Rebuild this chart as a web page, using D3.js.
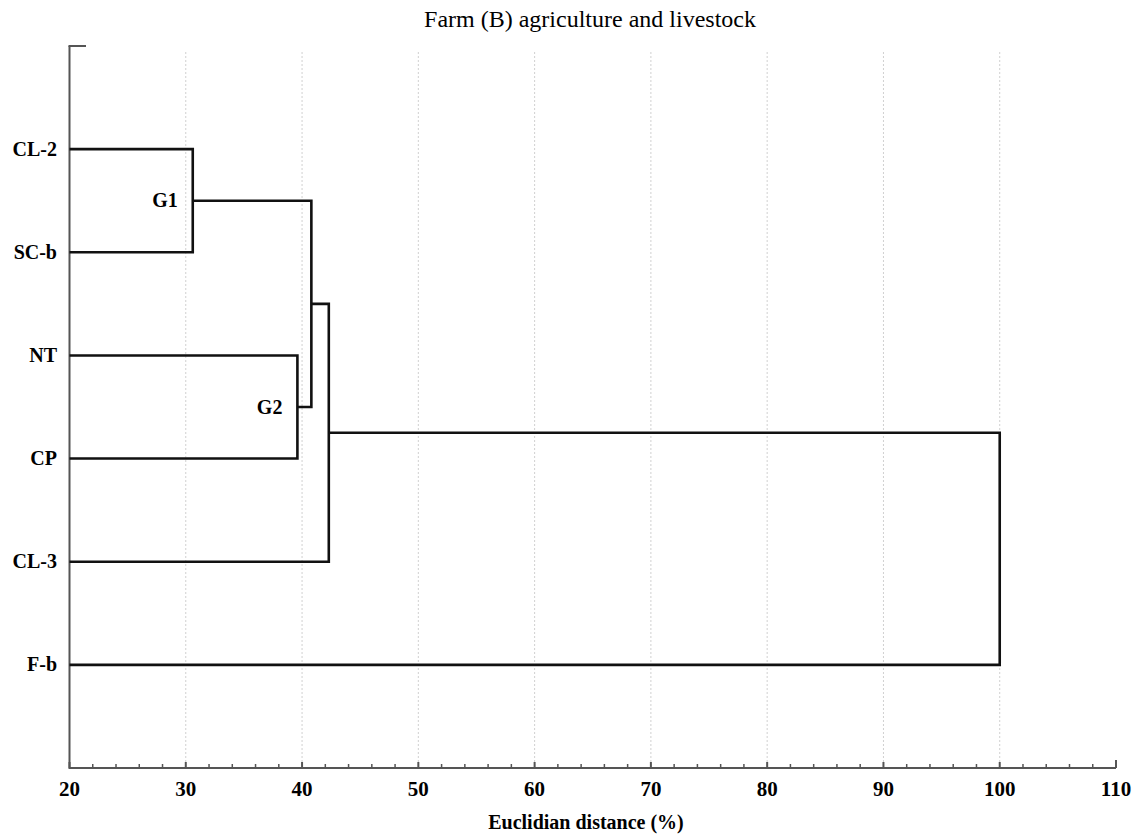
<!DOCTYPE html>
<html>
<head>
<meta charset="utf-8">
<script src="https://cdn.jsdelivr.net/npm/d3@7"></script>
<style>
  body { margin: 0; background: #fff; }
  text { font-family: "Liberation Serif", "Times New Roman", serif; }
</style>
</head>
<body>
<div id="chart"></div>
<script>
// Leaves, top to bottom
const leaves = ["CL-2", "SC-b", "NT", "CP", "CL-3", "F-b"];
// Merges: [name, left, right, distance, shown label]
const merges = [
    ["G1", "CL-2", "SC-b", 30.6, "G1"],
    ["G2", "NT", "CP", 39.6, "G2"],
    ["G12", "G1", "G2", 40.8, null],
    ["G123", "G12", "CL-3", 42.3, null],
    ["root", "G123", "F-b", 100, null]
];
const xTicks = [20, 30, 40, 50, 60, 70, 80, 90, 100, 110];
const gridTicks = [30, 40, 50, 60, 70, 80, 90, 100];
const minorTicks = d3.range(22, 110, 2).filter(v => v % 10 !== 0);

const width = 1142, height = 834;
const svg = d3.select("#chart").append("svg")
    .attr("width", width)
    .attr("height", height);

const x = d3.scaleLinear().domain([20, 110]).range([69.5, 1116]);
const y = d3.scaleLinear().domain([0, leaves.length + 1]).range([46, 768]);

// grid
svg.append("g").selectAll("line")
    .data(gridTicks)
    .enter().append("line")
    .attr("x1", d => x(d)).attr("x2", d => x(d))
    .attr("y1", 52).attr("y2", 768)
    .attr("stroke", "#d0d0d0")
    .attr("stroke-width", 1)
    .attr("stroke-dasharray", "2,2");

// axes
const axisColor = "#555";
svg.append("line")
    .attr("x1", x(20)).attr("x2", x(110))
    .attr("y1", 768).attr("y2", 768)
    .attr("stroke", axisColor).attr("stroke-width", 2);
svg.append("line")
    .attr("x1", x(20)).attr("x2", x(20))
    .attr("y1", 46).attr("y2", 769)
    .attr("stroke", axisColor).attr("stroke-width", 2);
svg.append("line")
    .attr("x1", x(20) - 1).attr("x2", 86)
    .attr("y1", 46).attr("y2", 46)
    .attr("stroke", axisColor).attr("stroke-width", 2);

svg.append("g").selectAll("line")
    .data(xTicks)
    .enter().append("line")
    .attr("x1", d => x(d)).attr("x2", d => x(d))
    .attr("y1", 768).attr("y2", d => d === 110 ? 760 : 762)
    .attr("stroke", axisColor).attr("stroke-width", 2);
svg.append("g").selectAll("line")
    .data(minorTicks)
    .enter().append("line")
    .attr("x1", d => x(d)).attr("x2", d => x(d))
    .attr("y1", 768).attr("y2", 764)
    .attr("stroke", axisColor).attr("stroke-width", 1.5);

svg.append("g").selectAll("text")
    .data(xTicks)
    .enter().append("text")
    .attr("x", d => x(d))
    .attr("y", 796)
    .attr("text-anchor", "middle")
    .attr("font-size", 21)
    .attr("font-weight", "bold")
    .text(d => d);

svg.append("text")
    .attr("x", 586).attr("y", 829)
    .attr("text-anchor", "middle")
    .attr("font-size", 20)
    .attr("font-weight", "bold")
    .text("Euclidian distance (%)");

svg.append("text")
    .attr("x", 590).attr("y", 27)
    .attr("text-anchor", "middle")
    .attr("font-size", 24)
    .text("Farm (B) agriculture and livestock");

// node positions
const nodes = {};
leaves.forEach((name, i) => {
    nodes[name] = { x: 20, y: i + 1 };
});
const links = [];
merges.forEach(m => {
    const a = nodes[m[1]], b = nodes[m[2]];
    const node = { x: m[3], y: (a.y + b.y) / 2, label: m[4] };
    links.push({ a, b, h: m[3] });
    nodes[m[0]] = node;
});

// dendrogram
svg.append("g").selectAll("path")
    .data(links)
    .enter().append("path")
    .attr("fill", "none")
    .attr("stroke", "#111")
    .attr("stroke-width", 2.6)
    .attr("d", l => `M${x(l.a.x)},${y(l.a.y)}H${x(l.h)}V${y(l.b.y)}H${x(l.b.x)}`);

// leaf labels
svg.append("g").selectAll("text")
    .data(leaves)
    .enter().append("text")
    .attr("x", 57)
    .attr("y", (d, i) => y(i + 1) + 6.5)
    .attr("text-anchor", "end")
    .attr("font-size", 20)
    .attr("font-weight", "bold")
    .text(d => d);

// group labels
svg.append("g").selectAll("text")
    .data(Object.values(nodes).filter(n => n.label))
    .enter().append("text")
    .attr("x", d => x(d.x) - 15)
    .attr("y", d => y(d.y) + 6.5)
    .attr("text-anchor", "end")
    .attr("font-size", 20)
    .attr("font-weight", "bold")
    .text(d => d.label);
</script>
</body>
</html>
